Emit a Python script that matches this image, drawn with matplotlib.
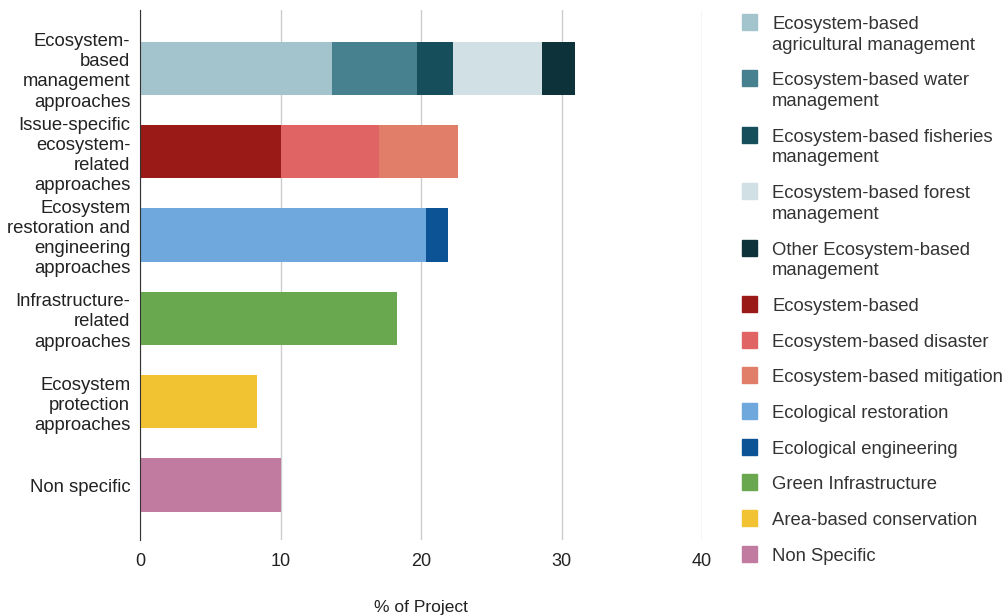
import matplotlib.pyplot as plt
from matplotlib.patches import Rectangle

plt.rcParams['font.family'] = ['Liberation Sans', 'DejaVu Sans']

# categories (top to bottom)
categories = ['Ecosystem-\nbased\nmanagement\napproaches',
              'Issue-specific\necosystem-\nrelated\napproaches',
              'Ecosystem\nrestoration and\nengineering\napproaches',
              'Infrastructure-\nrelated\napproaches',
              'Ecosystem\nprotection\napproaches',
              'Non specific']

# one entry per series: name, category index, value
series_names = ['Ecosystem-based\nagricultural management',
                'Ecosystem-based water\nmanagement',
                'Ecosystem-based fisheries\nmanagement',
                'Ecosystem-based forest\nmanagement',
                'Other Ecosystem-based\nmanagement',
                'Ecosystem-based',
                'Ecosystem-based disaster',
                'Ecosystem-based mitigation',
                'Ecological restoration',
                'Ecological engineering',
                'Green Infrastructure',
                'Area-based conservation',
                'Non Specific']
series_cat = [0, 0, 0, 0, 0, 1, 1, 1, 2, 2, 3, 4, 5]
series_val = [13.7, 6.0, 2.6, 6.3, 2.35, 10.0, 7.0, 5.6, 20.35, 1.55, 18.3, 8.3, 10.0]
colors = ['#a3c4cc', '#47808e', '#164e5b', '#d0e0e4', '#0e323a',
          '#991a16', '#e06464', '#e07e6a', '#6fa8dc', '#0b5394',
          '#6aa84f', '#f1c232', '#c27ba0']

W, H = 1008, 616
fig = plt.figure(figsize=(W/100, H/100), dpi=100)
ax = fig.add_axes([140/W, 1-540/H, (702-140)/W, 530/H])

left = [0.0]*len(categories)
for name, c, v, col in zip(series_names, series_cat, series_val, colors):
    ax.barh(c, v, left=left[c], height=0.64, color=col, label=name)
    left[c] += v

ax.set_xlim(0, 40)
ax.set_ylim(5.66, -0.7)
ax.set_xticks([0, 10, 20, 30, 40])
ax.set_yticks(range(len(categories)))
ax.set_yticklabels(categories, fontsize=13.3, color='#222222', linespacing=1.24)
ax.tick_params(axis='x', labelsize=13, colors='#222222', length=0, pad=9)
ax.tick_params(axis='y', length=0, pad=7)
ax.grid(axis='x', color='#cccccc', linewidth=1)
ax.set_axisbelow(True)
for s in ['top', 'right', 'bottom']:
    ax.spines[s].set_visible(False)
ax.spines['left'].set_color('#333333')
ax.set_xlabel('% of Project', fontsize=12.5, color='#222222', labelpad=22)

# legend drawn by hand so the swatch sits on the first line of wrapped labels
y = 22
for name, col in zip(series_names, colors):
    fig.add_artist(Rectangle((742/W, 1-(y+8)/H), 15/W, 16/H, color=col,
                             transform=fig.transFigure))
    fig.text(772/W, 1-(y-6)/H, name, fontsize=13.3, color='#333333',
             va='top', ha='left', linespacing=1.28)
    y += 35.7 + 20.7*name.count('\n')

plt.savefig('out.png', dpi=100)
